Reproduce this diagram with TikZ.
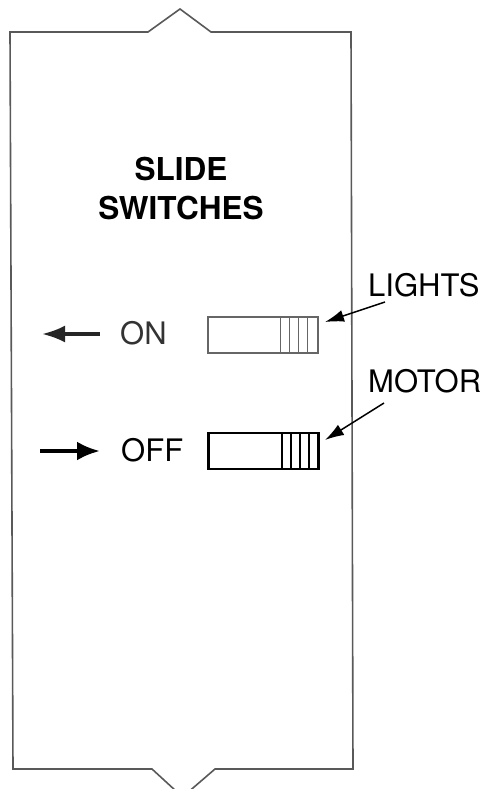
\documentclass[tikz,border=0pt]{standalone}
\usepackage{fontspec}
\setmainfont{TeX Gyre Heros}
\usetikzlibrary{arrows.meta,positioning}
\tikzset{
 panel/.style={draw=black!65,line width=1.6pt,line join=miter},
 tag/.style={inner sep=0pt,anchor=base west,font=\fontsize{31}{37}\selectfont},
 heading/.style={inner sep=0pt,anchor=base,font=\fontsize{31.5}{38}\selectfont\bfseries},
 switchbox/.style={draw,minimum width=110pt,minimum height=36pt,inner sep=0pt},
 pointer/.style={-{Latex[length=19pt,width=12pt]},line width=1.5pt},
 bigpointer/.style={-{Latex[length=23pt,width=#1]}},
}

\begin{document}
\begin{tikzpicture}[x=1pt,y=-1pt]
 \useasboundingbox (0,0) rectangle (487,789);

 % panel outline with notches
 \draw[panel] (10,32) -- (148,32) -- (180,9) -- (211,32) -- (351,32)
  -- (353,769) -- (215,769) -- (182.5,797) -- (152,769) -- (13,769) -- cycle;

 % heading
 \node[heading] (slide) at (181,180) {SLIDE};
 \node[heading] (switches) at (181,219) {SWITCHES};

 % switches
 \node[switchbox,draw=black!60,line width=1.2pt] (onsw) at (263,335) {};
 \node[switchbox,line width=2.4pt] (offsw) at (263.5,451) {};
 \foreach \d in {38,29,20,11} {
  \draw[black!60,line width=1.2pt] ([xshift=-\d pt]onsw.north east) -- ([xshift=-\d pt]onsw.south east);
  \draw[line width=2.2pt] ([xshift=-\d pt]offsw.north east) -- ([xshift=-\d pt]offsw.south east);
 }

 % labels
 \node[tag,text=black!80] (ontext) at (120,344) {ON};
 \node[tag] (offtext) at (121,461) {OFF};
 \node[tag] (lights) at (368,296) {LIGHTS};
 \node[tag] (motor) at (368,392) {MOTOR};

 % coordinates
 \coordinate (onend) at (42,334);
 \coordinate (offstart) at (40,451);
 \coordinate (lightstail) at (385,302);
 \coordinate (lightstip) at (325,322);
 \coordinate (motortail) at (384,403);
 \coordinate (motortip) at (325,440);

 % arrows
 \draw[bigpointer=17pt,line width=3.3pt,black!85] ([xshift=-20pt,yshift=10pt]ontext.base west) -- (onend);
 \draw[bigpointer=19pt,line width=4.2pt] (offstart) -- ([xshift=-21pt,yshift=10pt]offtext.base west);
 \draw[pointer] (lightstail) -- (lightstip);
 \draw[pointer] (motortail) -- (motortip);
\end{tikzpicture}
\end{document}
